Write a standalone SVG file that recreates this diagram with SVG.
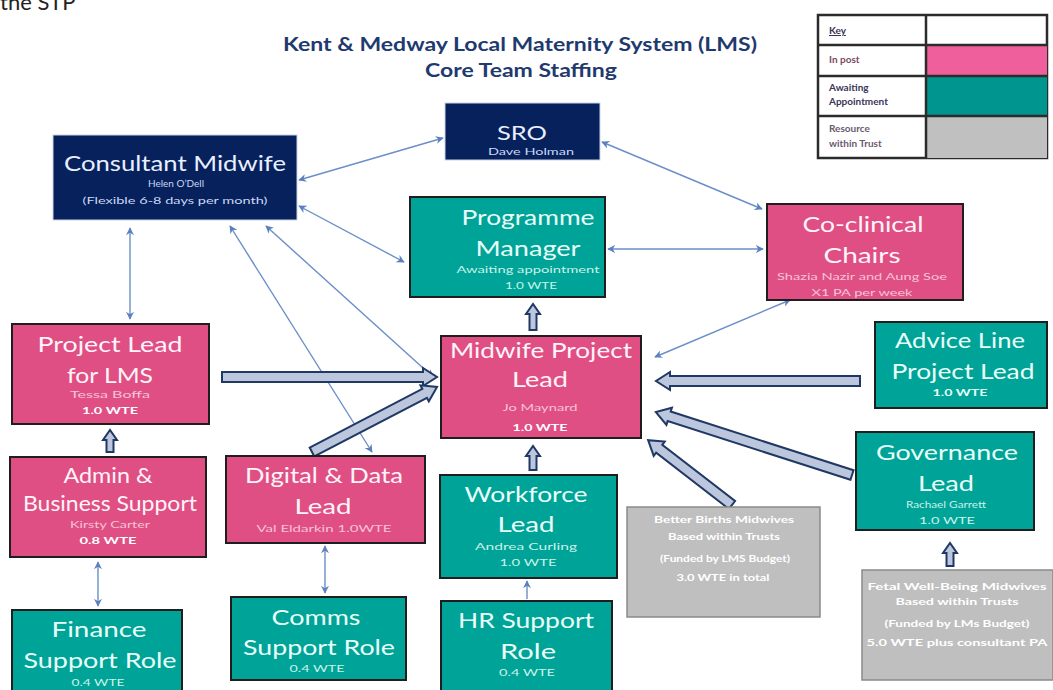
<svg xmlns="http://www.w3.org/2000/svg" width="1053" height="690" viewBox="0 0 1053 690">
  <style>
    text { font-family: Lato, "Open Sans", "Liberation Sans", sans-serif; text-anchor: middle; }
    .box { stroke: #1e1e1e; stroke-width: 2; }
    .pink { fill: #df4f84; }
    .teal { fill: #00a397; }
    .navy { fill: #06215c; stroke: #c9d3e6; stroke-width: 1; }
    .grey { fill: #bfbfbf; stroke: #8a8a8a; stroke-width: 1.5; }
    .h { font-size: 22px; fill: #fff4f8; }
    .ht { font-size: 22px; fill: #e9fff9; }
    .s { font-size: 10px; fill: #f7c3d6; }
    .st { font-size: 10px; fill: #c9f2e8; }
    .w { font-size: 10px; font-weight: bold; fill: #ffffff; }
    .g { font-size: 9.5px; font-weight: bold; fill: #ffffff; }
    .title { font-size: 18px; font-weight: bold; fill: #1f3a6e; }
    .key { font-size: 10px; font-weight: bold; fill: #3b3558; text-anchor: start; }
    .link { stroke: #6a8fc8; stroke-width: 1.4; fill: none; marker-start: url(#ah); marker-end: url(#ah); }
    .blk { fill: #bcc7dd; stroke: #1f3864; stroke-width: 2; stroke-linejoin: miter; }
  </style>
  <defs>
    <marker id="ah" viewBox="0 0 10 10" refX="9" refY="5" markerWidth="8" markerHeight="8" markerUnits="userSpaceOnUse" orient="auto-start-reverse">
      <path d="M0,0 L10,5 L0,10 L3,5 z" fill="#5a80bf"/>
    </marker>
  </defs>

  <rect width="1053" height="690" fill="#ffffff"/>

  <!-- page header fragment and chart title -->
  <text x="0" y="10" style="font-size:22px;fill:#222;text-anchor:start" font-family="'Open Sans', sans-serif">the STP</text>
  <text class="title" x="520" y="51" textLength="474" lengthAdjust="spacingAndGlyphs">Kent &amp; Medway Local Maternity System (LMS)</text>
  <text class="title" x="521" y="77" textLength="192" lengthAdjust="spacingAndGlyphs">Core Team Staffing</text>

  <!-- key table -->
  <g id="key">
    <rect x="818" y="15" width="229" height="143" fill="#ffffff" stroke="#2b2b2b" stroke-width="2.5"/>
    <rect x="926" y="45" width="121" height="31" fill="#ef5f9b"/>
    <rect x="926" y="76" width="121" height="40" fill="#00958f"/>
    <rect x="926" y="116" width="121" height="42" fill="#c0c0c0"/>
    <g stroke="#2b2b2b" stroke-width="2.5">
      <line x1="926" y1="15" x2="926" y2="158"/>
      <line x1="818" y1="45" x2="1047" y2="45"/>
      <line x1="818" y1="76" x2="1047" y2="76"/>
      <line x1="818" y1="116" x2="1047" y2="116"/>
    </g>
    <text class="key" x="829" y="34" text-decoration="underline" fill="#1f2f6e">Key</text>
    <text class="key" x="829" y="63" style="fill:#7a4a62">In post</text>
    <text class="key" x="829" y="91">Awaiting</text>
    <text class="key" x="829" y="105">Appointment</text>
    <text class="key" x="829" y="132" style="fill:#6a5a70">Resource</text>
    <text class="key" x="829" y="147" style="fill:#6a5a70">within Trust</text>
  </g>

  <!-- connectors -->
  <g id="connectors">
    <line class="link" x1="299" y1="180" x2="443" y2="138"/>
    <line class="link" x1="602" y1="142" x2="762" y2="209"/>
    <line class="link" x1="299" y1="206" x2="404" y2="262"/>
    <line class="link" x1="608" y1="249" x2="763" y2="249"/>
    <line class="link" x1="790" y1="300" x2="655" y2="357"/>
    <line class="link" x1="130" y1="228" x2="130" y2="319"/>
    <line class="link" x1="230" y1="226" x2="372" y2="452"/>
    <line class="link" x1="266" y1="226" x2="433" y2="377"/>
    <line class="link" x1="98" y1="562" x2="98" y2="606"/>
    <line class="link" x1="325" y1="546" x2="325" y2="593"/>
    <line class="link" x1="527" y1="599" x2="527" y2="581" style="marker-start:none"/>

    <!-- block arrows: shaft then head, drawn pointing along +x -->
    <polygon class="blk" transform="translate(222,377)" points="0,-5 201,-5 201,-9 215,0 201,9 201,5 0,5"/>
    <polygon class="blk" transform="translate(312,452) rotate(-27.5)" points="0,-5 127,-5 127,-9 141,0 127,9 127,5 0,5"/>
    <polygon class="blk" transform="translate(533,330) rotate(-90)" points="0,-3.5 16,-3.5 16,-7 26,0 16,7 16,3.5 0,3.5"/>
    <polygon class="blk" transform="translate(110,452) rotate(-90)" points="0,-3.5 12,-3.5 12,-7 22,0 12,7 12,3.5 0,3.5"/>
    <polygon class="blk" transform="translate(533,470) rotate(-90)" points="0,-3.5 14,-3.5 14,-7 24,0 14,7 14,3.5 0,3.5"/>
    <polygon class="blk" transform="translate(860,381) rotate(180)" points="0,-5 190,-5 190,-9 204,0 190,9 190,5 0,5"/>
    <polygon class="blk" transform="translate(852,475) rotate(-162.2)" points="0,-5 192,-5 192,-9 206,0 192,9 192,5 0,5"/>
    <polygon class="blk" transform="translate(732,505) rotate(-142.3)" points="0,-5 92,-5 92,-9 106,0 92,9 92,5 0,5"/>
    <polygon class="blk" transform="translate(950,566) rotate(-90)" points="0,-3.5 13,-3.5 13,-7 23,0 13,7 13,3.5 0,3.5"/>
  </g>

  <!-- nodes -->
  <g id="sro">
    <rect class="navy" x="445" y="103" width="155" height="57"/>
    <text x="522" y="140" style="font-size:20px;fill:#e8efff" textLength="50" lengthAdjust="spacingAndGlyphs">SRO</text>
    <text x="531" y="155" style="font-size:9px;fill:#c9d8f5" textLength="86" lengthAdjust="spacingAndGlyphs">Dave Holman</text>
  </g>

  <g id="consultant-midwife">
    <rect class="navy" x="53" y="135" width="244" height="85"/>
    <text x="175" y="171" style="font-size:22px;fill:#e8efff" textLength="222" lengthAdjust="spacingAndGlyphs">Consultant Midwife</text>
    <text x="176" y="187" style="font-size:10px;fill:#c9d8f5" textLength="56" lengthAdjust="spacingAndGlyphs">Helen O’Dell</text>
    <text x="175" y="204" style="font-size:10px;fill:#c9d8f5" textLength="185" lengthAdjust="spacingAndGlyphs">(Flexible 6-8 days per month)</text>
  </g>

  <g id="programme-manager">
    <rect class="box teal" x="410" y="197" width="195" height="100"/>
    <text class="ht" x="528" y="225" textLength="133" lengthAdjust="spacingAndGlyphs">Programme</text>
    <text class="ht" x="528" y="256" textLength="105" lengthAdjust="spacingAndGlyphs">Manager</text>
    <text class="st" x="528" y="273" textLength="143" lengthAdjust="spacingAndGlyphs">Awaiting appointment</text>
    <text class="st" x="531" y="289" textLength="52" lengthAdjust="spacingAndGlyphs">1.0 WTE</text>
  </g>

  <g id="co-clinical-chairs">
    <rect class="box pink" x="767" y="204" width="196" height="96"/>
    <text class="h" x="863" y="232" textLength="121" lengthAdjust="spacingAndGlyphs">Co-clinical</text>
    <text class="h" x="862" y="263" textLength="77" lengthAdjust="spacingAndGlyphs">Chairs</text>
    <text class="s" x="862" y="280" textLength="170" lengthAdjust="spacingAndGlyphs">Shazia Nazir and Aung Soe</text>
    <text class="s" x="862" y="296" textLength="101" lengthAdjust="spacingAndGlyphs">X1 PA per week</text>
  </g>

  <g id="project-lead-lms">
    <rect class="box pink" x="12" y="324" width="197" height="100"/>
    <text class="h" x="110" y="352" textLength="145" lengthAdjust="spacingAndGlyphs">Project Lead</text>
    <text class="h" x="110" y="383" textLength="86" lengthAdjust="spacingAndGlyphs">for LMS</text>
    <text class="s" x="110" y="398" textLength="80" lengthAdjust="spacingAndGlyphs">Tessa Boffa</text>
    <text class="w" x="110" y="414" textLength="56" lengthAdjust="spacingAndGlyphs">1.0 WTE</text>
  </g>

  <g id="midwife-project-lead">
    <rect class="box pink" x="441" y="336" width="200" height="102"/>
    <text class="h" x="541" y="358" textLength="182" lengthAdjust="spacingAndGlyphs">Midwife Project</text>
    <text class="h" x="540" y="387" textLength="56" lengthAdjust="spacingAndGlyphs">Lead</text>
    <text class="s" x="540" y="411" textLength="75" lengthAdjust="spacingAndGlyphs">Jo Maynard</text>
    <text class="w" x="540" y="431" textLength="55" lengthAdjust="spacingAndGlyphs">1.0 WTE</text>
  </g>

  <g id="advice-line-lead">
    <rect class="box teal" x="875" y="322" width="172" height="86"/>
    <text class="ht" x="960" y="348" textLength="130" lengthAdjust="spacingAndGlyphs">Advice Line</text>
    <text class="ht" x="963" y="379" textLength="143" lengthAdjust="spacingAndGlyphs">Project Lead</text>
    <text class="w" x="960" y="396" textLength="55" lengthAdjust="spacingAndGlyphs" style="fill:#e4fff8">1.0 WTE</text>
  </g>

  <g id="admin-business-support">
    <rect class="box pink" x="10" y="457" width="196" height="100"/>
    <text class="h" x="108" y="483" textLength="89" lengthAdjust="spacingAndGlyphs">Admin &amp;</text>
    <text class="h" x="110" y="511" textLength="174" lengthAdjust="spacingAndGlyphs">Business Support</text>
    <text class="s" x="110" y="528" textLength="80" lengthAdjust="spacingAndGlyphs">Kirsty Carter</text>
    <text class="w" x="108" y="544" textLength="57" lengthAdjust="spacingAndGlyphs">0.8 WTE</text>
  </g>

  <g id="digital-data-lead">
    <rect class="box pink" x="226" y="456" width="199" height="87"/>
    <text class="h" x="324" y="483" textLength="158" lengthAdjust="spacingAndGlyphs">Digital &amp; Data</text>
    <text class="h" x="323" y="514" textLength="57" lengthAdjust="spacingAndGlyphs">Lead</text>
    <text class="s" x="324" y="532" textLength="135" lengthAdjust="spacingAndGlyphs">Val Eldarkin 1.0WTE</text>
  </g>

  <g id="workforce-lead">
    <rect class="box teal" x="440" y="475" width="177" height="103"/>
    <text class="ht" x="526" y="502" textLength="123" lengthAdjust="spacingAndGlyphs">Workforce</text>
    <text class="ht" x="526" y="532" textLength="57" lengthAdjust="spacingAndGlyphs">Lead</text>
    <text class="st" x="526" y="550" textLength="102" lengthAdjust="spacingAndGlyphs">Andrea Curling</text>
    <text class="st" x="528" y="566" textLength="57" lengthAdjust="spacingAndGlyphs">1.0 WTE</text>
  </g>

  <g id="better-births-midwives">
    <rect class="grey" x="627" y="507" width="193" height="110"/>
    <text class="g" x="724" y="523" textLength="140" lengthAdjust="spacingAndGlyphs">Better Births Midwives</text>
    <text class="g" x="724" y="540" textLength="112" lengthAdjust="spacingAndGlyphs">Based within Trusts</text>
    <text class="g" x="725" y="562" textLength="130" lengthAdjust="spacingAndGlyphs">(Funded by LMS Budget)</text>
    <text class="g" x="723" y="581" textLength="93" lengthAdjust="spacingAndGlyphs">3.0 WTE in total</text>
  </g>

  <g id="governance-lead">
    <rect class="box teal" x="856" y="432" width="178" height="98"/>
    <text class="ht" x="947" y="460" textLength="142" lengthAdjust="spacingAndGlyphs">Governance</text>
    <text class="ht" x="946" y="491" textLength="56" lengthAdjust="spacingAndGlyphs">Lead</text>
    <text class="st" x="946" y="508" textLength="80" lengthAdjust="spacingAndGlyphs">Rachael  Garrett</text>
    <text class="st" x="947" y="524" textLength="56" lengthAdjust="spacingAndGlyphs">1.0 WTE</text>
  </g>

  <g id="fetal-wellbeing-midwives">
    <rect class="grey" x="862" y="570" width="191" height="110"/>
    <text class="g" x="957" y="590" textLength="179" lengthAdjust="spacingAndGlyphs">Fetal Well-Being Midwives</text>
    <text class="g" x="957" y="605" textLength="123" lengthAdjust="spacingAndGlyphs">Based within Trusts</text>
    <text class="g" x="957" y="627" textLength="145" lengthAdjust="spacingAndGlyphs">(Funded by LMs Budget)</text>
    <text class="g" x="957" y="646" textLength="181" lengthAdjust="spacingAndGlyphs">5.0 WTE plus consultant PA</text>
  </g>

  <g id="finance-support-role">
    <rect class="box teal" x="12" y="610" width="170" height="82"/>
    <text class="ht" x="99" y="637" textLength="95" lengthAdjust="spacingAndGlyphs">Finance</text>
    <text class="ht" x="100" y="668" textLength="153" lengthAdjust="spacingAndGlyphs">Support Role</text>
    <text class="st" x="98" y="686" textLength="53" lengthAdjust="spacingAndGlyphs">0.4 WTE</text>
  </g>

  <g id="comms-support-role">
    <rect class="box teal" x="231" y="597" width="175" height="83"/>
    <text class="ht" x="316" y="625" textLength="89" lengthAdjust="spacingAndGlyphs">Comms</text>
    <text class="ht" x="319" y="655" textLength="152" lengthAdjust="spacingAndGlyphs">Support Role</text>
    <text class="st" x="317" y="672" textLength="55" lengthAdjust="spacingAndGlyphs">0.4 WTE</text>
  </g>

  <g id="hr-support-role">
    <rect class="box teal" x="441" y="601" width="171" height="91"/>
    <text class="ht" x="526" y="628" textLength="136" lengthAdjust="spacingAndGlyphs">HR Support</text>
    <text class="ht" x="528" y="659" textLength="56" lengthAdjust="spacingAndGlyphs">Role</text>
    <text class="st" x="527" y="676" textLength="56" lengthAdjust="spacingAndGlyphs">0.4 WTE</text>
  </g>
</svg>
